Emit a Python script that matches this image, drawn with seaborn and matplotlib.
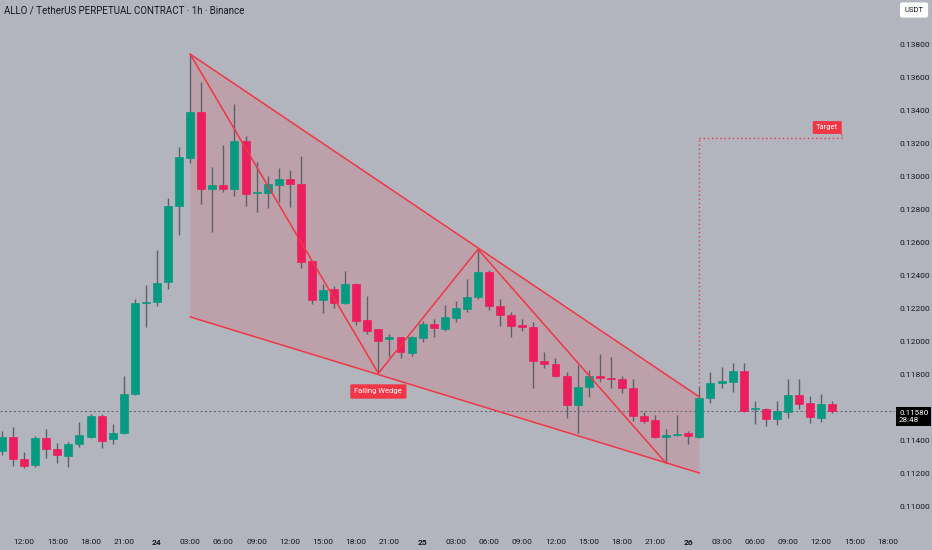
import matplotlib
matplotlib.use("Agg")
import matplotlib.pyplot as plt
import seaborn as sns
import numpy as np
import pandas as pd

# hourly candles, hour index counted from day 23 00:00
hours = list(range(10, 86))
opens = [0.11341, 0.11426, 0.11291, 0.11255, 0.11418, 0.11352, 0.11311, 0.11382, 0.11426, 0.11554,
         0.11412, 0.11450, 0.11685, 0.12235, 0.12240, 0.12365, 0.12824, 0.13115, 0.13396, 0.12927,
         0.12952, 0.12927, 0.13218, 0.12901, 0.12905, 0.12952, 0.12986, 0.12958, 0.12493, 0.12255,
         0.12320, 0.12238, 0.12352, 0.12133, 0.12077, 0.12017, 0.12029, 0.11935, 0.12026, 0.12109,
         0.12077, 0.12144, 0.12198, 0.12271, 0.12426, 0.12218, 0.12164, 0.12099, 0.12093, 0.11887,
         0.11867, 0.11796, 0.11618, 0.11729, 0.11796, 0.11784, 0.11774, 0.11723, 0.11552, 0.11527,
         0.11426, 0.11435, 0.11450, 0.11426, 0.11663, 0.11750, 0.11760, 0.11824, 0.11592, 0.11592,
         0.11532, 0.11578, 0.11679, 0.11629, 0.11541, 0.11624]
highs = [0.11461, 0.11487, 0.11335, 0.11431, 0.11473, 0.11390, 0.11396, 0.11515, 0.11564, 0.11564,
         0.11503, 0.11794, 0.12261, 0.12346, 0.12558, 0.12875, 0.13184, 0.13745, 0.13578, 0.13062,
         0.13194, 0.13442, 0.13250, 0.13091, 0.13006, 0.13055, 0.13042, 0.13127, 0.12495, 0.12352,
         0.12340, 0.12430, 0.12360, 0.12279, 0.12080, 0.12049, 0.12032, 0.12037, 0.12129, 0.12141,
         0.12223, 0.12249, 0.12380, 0.12562, 0.12436, 0.12259, 0.12180, 0.12140, 0.12121, 0.11938,
         0.11903, 0.11817, 0.11861, 0.11830, 0.11927, 0.11911, 0.11794, 0.11774, 0.11574, 0.11558,
         0.11473, 0.11558, 0.11463, 0.11729, 0.11817, 0.11847, 0.11875, 0.11875, 0.11644, 0.11600,
         0.11644, 0.11774, 0.11774, 0.11673, 0.11683, 0.11644]
lows = [0.11315, 0.11249, 0.11237, 0.11243, 0.11297, 0.11267, 0.11243, 0.11366, 0.11418, 0.11360,
        0.11382, 0.11445, 0.11680, 0.12093, 0.12220, 0.12321, 0.12649, 0.13085, 0.12836, 0.12669,
        0.12911, 0.12885, 0.12824, 0.12788, 0.12814, 0.12850, 0.12820, 0.12450, 0.12230, 0.12178,
        0.12204, 0.12230, 0.12103, 0.12047, 0.11810, 0.11907, 0.11901, 0.11915, 0.12002, 0.12029,
        0.12069, 0.12123, 0.12184, 0.12259, 0.12194, 0.12097, 0.12032, 0.12067, 0.11723, 0.11844,
        0.11788, 0.11541, 0.11450, 0.11665, 0.11760, 0.11720, 0.11689, 0.11521, 0.11507, 0.11420,
        0.11265, 0.11431, 0.11382, 0.11420, 0.11632, 0.11723, 0.11699, 0.11578, 0.11503, 0.11493,
        0.11497, 0.11541, 0.11592, 0.11507, 0.11514, 0.11568]
closes = [0.11426, 0.11291, 0.11249, 0.11418, 0.11352, 0.11315, 0.11382, 0.11437, 0.11554, 0.11402,
          0.11450, 0.11685, 0.12237, 0.12245, 0.12360, 0.12824, 0.13121, 0.13396, 0.12927, 0.12952,
          0.12927, 0.13220, 0.12897, 0.12909, 0.12958, 0.12986, 0.12958, 0.12487, 0.12255, 0.12315,
          0.12238, 0.12352, 0.12127, 0.12069, 0.12008, 0.12029, 0.11941, 0.12029, 0.12109, 0.12083,
          0.12150, 0.12204, 0.12275, 0.12426, 0.12218, 0.12164, 0.12099, 0.12093, 0.11887, 0.11867,
          0.11796, 0.11618, 0.11729, 0.11796, 0.11784, 0.11774, 0.11723, 0.11552, 0.11523, 0.11426,
          0.11432, 0.11443, 0.11431, 0.11663, 0.11750, 0.11766, 0.11826, 0.11584, 0.11598, 0.11532,
          0.11582, 0.11679, 0.11624, 0.11544, 0.11624, 0.11580]

# falling wedge drawing
wedge_upper_h = [27, 73]
wedge_upper_p = [0.13745, 0.11667]
wedge_lower_h = [27, 73]
wedge_lower_p = [0.12152, 0.11206]
zigzag_h = [27, 44, 53, 70]
zigzag_p = [0.13745, 0.11810, 0.12562, 0.11265]

target_start_h = 73
target_end_h = 86
target_from = 0.11729
target_price = 0.13236
last_price = 0.11580

xtick_hours = list(range(12, 91, 3))
ytick_prices = [0.110, 0.112, 0.114, 0.118, 0.120, 0.122, 0.124, 0.126,
                0.128, 0.130, 0.132, 0.134, 0.136, 0.138]

BG = "#b2b5be"
UP = "#089981"
DOWN = "#ec1f5e"
WEDGE = "#f23645"
WICK = "#5d606b"
TXT = "#131722"

sns.set_theme(style="white", rc={"axes.facecolor": BG, "figure.facecolor": BG})
plt.rcParams["font.family"] = ["Roboto", "DejaVu Sans"]

df = pd.DataFrame({"h": hours, "o": opens, "hi": highs, "lo": lows, "c": closes})
df["up"] = df["c"] >= df["o"]
df["bottom"] = df[["o", "c"]].min(axis=1)
df["height"] = (df["c"] - df["o"]).abs().clip(lower=0.00009)

fig = plt.figure(figsize=(9.32, 5.5), dpi=100)
ax = fig.add_axes([0, 1 - 528 / 550, 895 / 932, 528 / 550])
ax.set_facecolor(BG)

# wedge fill + lines
poly_h = wedge_upper_h + wedge_lower_h[::-1]
poly_p = wedge_upper_p + wedge_lower_p[::-1]
ax.fill(poly_h, poly_p, color=WEDGE, alpha=0.16, lw=0, zorder=1)
ax.plot(wedge_upper_h, wedge_upper_p, color=WEDGE, lw=1.1, zorder=4)
ax.plot(wedge_lower_h, wedge_lower_p, color=WEDGE, lw=1.1, zorder=4)
ax.plot(zigzag_h, zigzag_p, color=WEDGE, lw=1.1, zorder=4)

# last price line
ax.axhline(last_price, color="#6a6d78", lw=0.8, ls=(0, (2, 2)), zorder=1)

# candles
colors = np.where(df["up"], UP, DOWN)
ax.vlines(df["h"], df["lo"], df["hi"], color=WICK, lw=1, zorder=2)
ax.bar(df["h"], df["height"], bottom=df["bottom"], width=0.72, color=colors,
       edgecolor=colors, linewidth=0.5, zorder=3)

# target projection
ax.plot([target_start_h, target_start_h], [target_from, target_price], color=WEDGE,
        lw=1, ls=(0, (1, 2)), zorder=4)
ax.plot([target_start_h, target_end_h], [target_price, target_price], color=WEDGE,
        lw=1, ls=(0, (1, 2)), zorder=4)
ax.text(84.55, 0.13300, "Target", color="white", fontsize=5.5, ha="center", va="center",
        zorder=6, bbox=dict(boxstyle="round,pad=0.45,rounding_size=0.15", fc=WEDGE, ec="none"))
ax.fill([85.2, 86.0, 85.6], [0.13315, target_price, 0.13300], color=WEDGE, lw=0, zorder=5)

ax.text(44.0, 0.11700, "Falling Wedge", color="white", fontsize=5.5, ha="center", va="center",
        zorder=6, bbox=dict(boxstyle="round,pad=0.55,rounding_size=0.15", fc=WEDGE, ec="none"))

ax.set_xlim(9.82, 90.67)
ax.set_ylim(0.108727, 0.140727)

# axes ticks
xlabels = []
for h in xtick_hours:
    if h % 24 == 0:
        xlabels.append(str(23 + h // 24))
    else:
        xlabels.append(f"{h % 24:02d}:00")
ax.set_xticks(xtick_hours)
ax.set_xticklabels(xlabels)
for lab, h in zip(ax.get_xticklabels(), xtick_hours):
    if h % 24 == 0:
        lab.set_fontweight("bold")
ax.yaxis.tick_right()
ax.set_yticks(ytick_prices)
ax.set_yticklabels([f"{p:.5f}" for p in ytick_prices])
ax.tick_params(axis="x", length=0, pad=8, labelsize=6, colors=TXT)
ax.tick_params(axis="y", length=0, pad=3, labelsize=6, colors=TXT)
for s in ax.spines.values():
    s.set_visible(False)
ax.grid(False)

fig.text(4 / 932, 1 - 10 / 550, "ALLO / TetherUS PERPETUAL CONTRACT · 1h · Binance",
         fontsize=7, color=TXT, ha="left", va="center")
fig.text(914 / 932, 1 - 10 / 550, "USDT", fontsize=5.5, color=TXT, ha="center", va="center",
         bbox=dict(boxstyle="round,pad=0.6,rounding_size=0.3", fc="white", ec="none"))
fig.text(899 / 932, 1 - 416.5 / 550, "0.11580\n28:48", fontsize=5.8, color="white",
         ha="left", va="center", linespacing=1.25,
         bbox=dict(boxstyle="square,pad=0.35", fc="black", ec="none"), zorder=10)

fig.savefig("out.png", dpi=100, facecolor=BG)
